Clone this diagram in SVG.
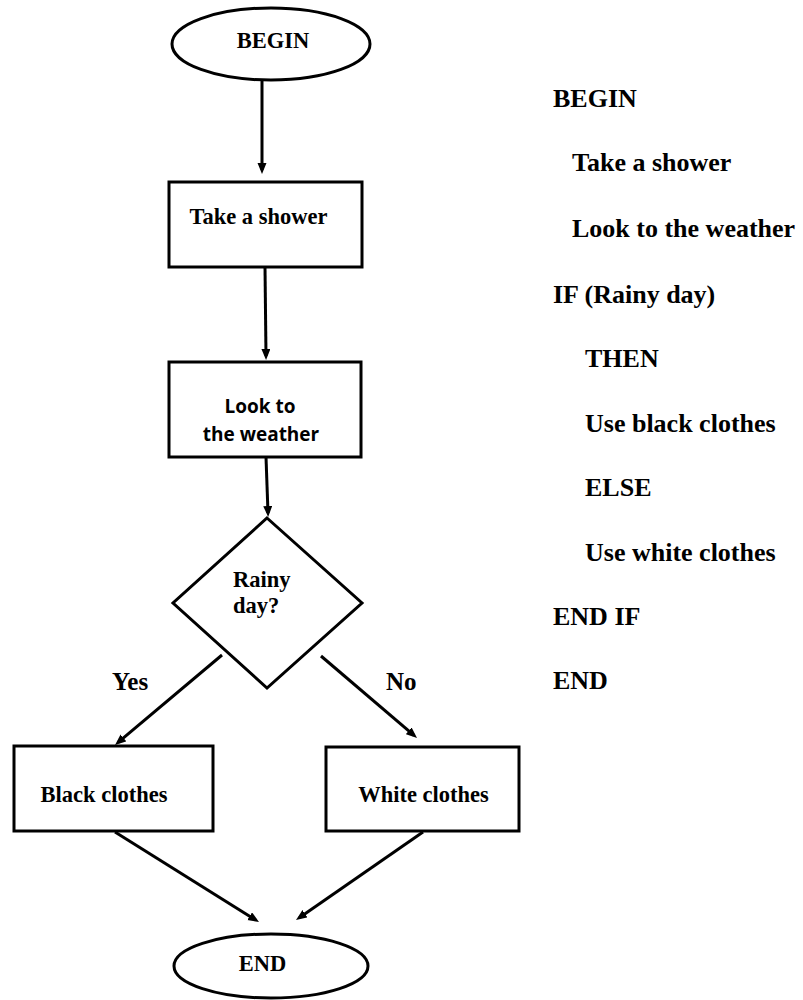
<svg xmlns="http://www.w3.org/2000/svg" width="803" height="1000" viewBox="0 0 803 1000">
<style>
.shape{fill:#fff;stroke:#000;stroke-width:3}
.conn{fill:none;stroke:#000;stroke-width:3}
.t{font-family:"Liberation Serif","Times New Roman",serif;font-weight:bold;font-size:22.5px;fill:#000}
.s{font-family:"Open Sans","Noto Sans",sans-serif;font-weight:bold;font-size:19px;fill:#000}
.lbl{font-family:"Liberation Serif","Times New Roman",serif;font-weight:bold;font-size:25px;fill:#000}
.code{font-family:"Liberation Serif","Times New Roman",serif;font-weight:bold;font-size:26px;fill:#000}
</style>
<defs>
<marker id="ah" markerUnits="userSpaceOnUse" markerWidth="12" markerHeight="10" refX="7" refY="4.5" orient="auto">
<path d="M0,0 L11,4.5 L0,9 z" fill="#000"/>
</marker>
</defs>
<rect width="803" height="1000" fill="#fff"/>
<g id="connectors">
<line class="conn" x1="262" y1="80" x2="262" y2="170" marker-end="url(#ah)"/>
<line class="conn" x1="265" y1="267" x2="266" y2="356" marker-end="url(#ah)"/>
<line class="conn" x1="266" y1="457" x2="268" y2="513" marker-end="url(#ah)"/>
<line class="conn" x1="222" y1="655" x2="118.1" y2="742.4" marker-end="url(#ah)"/>
<line class="conn" x1="321" y1="656" x2="414" y2="735.4" marker-end="url(#ah)"/>
<line class="conn" x1="115" y1="832" x2="255.6" y2="919.9" marker-end="url(#ah)"/>
<line class="conn" x1="423" y1="832" x2="299.3" y2="917.7" marker-end="url(#ah)"/>
<text class="lbl" x="112" y="690">Yes</text>
<text class="lbl" x="386" y="690">No</text>
</g>
<g id="begin">
<ellipse class="shape" cx="271" cy="44" rx="99" ry="36"/>
<text class="t" x="273" y="48" text-anchor="middle">BEGIN</text>
</g>
<g id="shower">
<rect class="shape" x="169" y="182" width="193" height="85"/>
<text class="t" x="258.5" y="224" text-anchor="middle">Take a shower</text>
</g>
<g id="weather">
<rect class="shape" x="169" y="362" width="192" height="95"/>
<text class="s" x="260" y="413" text-anchor="middle">Look to</text>
<text class="s" x="261" y="441" text-anchor="middle">the weather</text>
</g>
<g id="rainy">
<polygon class="shape" points="267,518 362,603 267,688 173,603"/>
<text class="t" x="233" y="587">Rainy</text>
<text class="t" x="233" y="613">day?</text>
</g>
<g id="black">
<rect class="shape" x="14" y="746" width="199" height="85"/>
<text class="t" x="104" y="802" text-anchor="middle">Black clothes</text>
</g>
<g id="white">
<rect class="shape" x="326" y="747" width="193" height="84"/>
<text class="t" x="423.5" y="802" text-anchor="middle">White clothes</text>
</g>
<g id="end">
<ellipse class="shape" cx="271" cy="966" rx="97" ry="32"/>
<text class="t" x="262.5" y="971" text-anchor="middle">END</text>
</g>
<g id="pseudocode">
<text class="code" x="553" y="107">BEGIN</text>
<text class="code" x="572" y="171">Take a shower</text>
<text class="code" x="572" y="237">Look to the weather</text>
<text class="code" x="553" y="303">IF (Rainy day)</text>
<text class="code" x="585" y="367">THEN</text>
<text class="code" x="585" y="432">Use black clothes</text>
<text class="code" x="585" y="496">ELSE</text>
<text class="code" x="585" y="561">Use white clothes</text>
<text class="code" x="553" y="625">END IF</text>
<text class="code" x="553" y="689">END</text>
</g>
</svg>
